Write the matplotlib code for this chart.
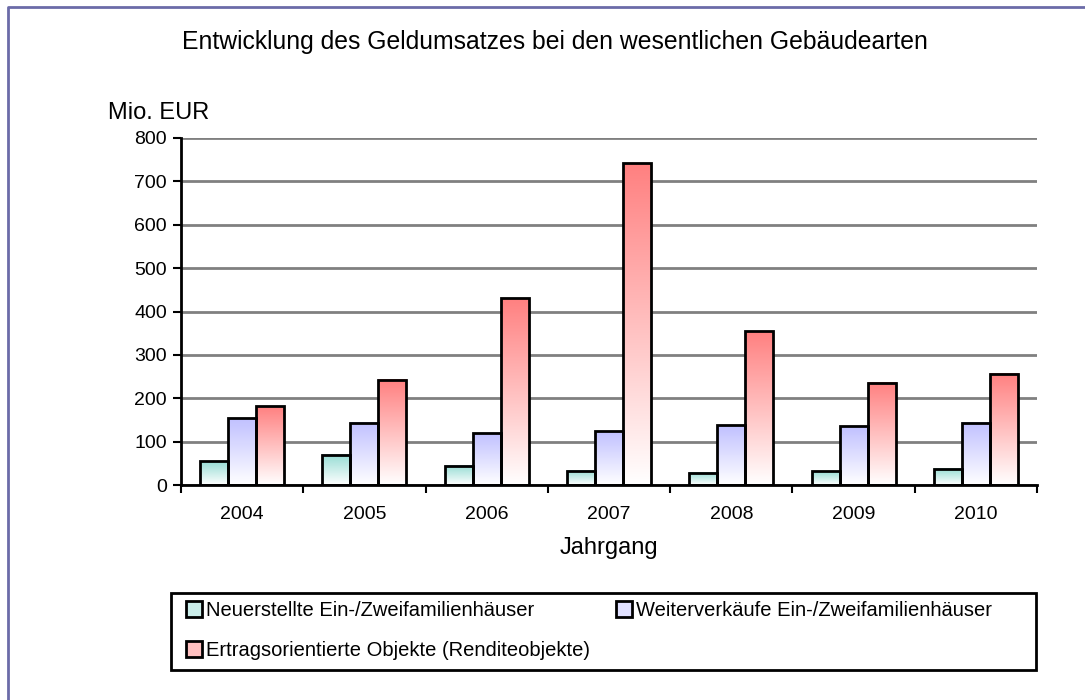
import matplotlib
matplotlib.use('Agg')
import matplotlib.pyplot as plt
import numpy as np
from matplotlib.colors import LinearSegmentedColormap, to_rgb
from matplotlib.patches import Rectangle, Patch
from matplotlib.lines import Line2D

plt.rcParams['font.family'] = ['Liberation Sans', 'DejaVu Sans']

years = ['2004', '2005', '2006', '2007', '2008', '2009', '2010']
neubau = [55, 70, 44, 33, 28, 32, 38]
weiterverkauf = [154, 144, 119, 124, 138, 136, 144]
rendite = [182, 243, 431, 742, 354, 236, 257]

series_names = ['Neuerstellte Ein-/Zweifamilienhäuser',
                'Weiterverkäufe Ein-/Zweifamilienhäuser',
                'Ertragsorientierte Objekte (Renditeobjekte)']
top_colors = ['#96dcd4', '#c0c0ff', '#ff8080']

fig = plt.figure(figsize=(10.85, 7.0), dpi=100)
ax = fig.add_axes([181 / 1085, 1 - 485 / 700, (1037 - 181) / 1085, (485 - 138) / 700])

x = np.arange(len(years))
width = 0.229
offsets = [-width, 0, width]
grad = np.linspace(1, 0, 256).reshape(-1, 1)

for values, off, color in zip([neubau, weiterverkauf, rendite], offsets, top_colors):
    cmap = LinearSegmentedColormap.from_list('g', ['#ffffff', color])
    bars = ax.bar(x + off, values, width, facecolor='none', edgecolor='black',
                  linewidth=2, zorder=3)
    for b in bars:
        x0, y0 = b.get_x(), b.get_y()
        ax.imshow(grad, extent=[x0, x0 + b.get_width(), y0, y0 + b.get_height()],
                  cmap=cmap, vmin=0, vmax=1, aspect='auto', origin='upper', zorder=2)

ax.set_xlim(-0.5, len(years) - 0.5)
ax.set_ylim(0, 800)
ax.set_yticks(np.arange(0, 801, 100))
ax.yaxis.grid(True, color='#808080', linewidth=2)
ax.set_axisbelow(True)

# ticks between categories, labels centred below each group
ax.set_xticks(np.arange(-0.5, len(years), 1.0))
ax.set_xticklabels([])
ax.set_xticks(x, minor=True)
ax.set_xticklabels(years, minor=True)
ax.tick_params(axis='x', which='major', direction='out', length=6, width=1.5)
ax.tick_params(axis='x', which='minor', length=0, pad=15, labelsize=14)
ax.tick_params(axis='y', direction='out', length=6, width=1.5, pad=4, labelsize=14)

for s in ['top', 'right']:
    ax.spines[s].set_visible(False)
for s in ['left', 'bottom']:
    ax.spines[s].set_linewidth(2)

ax.set_xlabel('Jahrgang', fontsize=17, labelpad=10)

fig.text(555 / 1085, 1 - 42 / 700, 'Entwicklung des Geldumsatzes bei den wesentlichen Gebäudearten',
         ha='center', va='center', fontsize=17.8)
fig.text(108 / 1085, 1 - 113 / 700, 'Mio. EUR', ha='left', va='center', fontsize=17)

# legend with its own frame
fig.patches.append(Rectangle((171 / 1085, 1 - 670 / 700), (1036 - 171) / 1085, 77 / 700,
                             transform=fig.transFigure, facecolor='none',
                             edgecolor='black', linewidth=2))
handles = [Patch(facecolor=1 - 0.5 * (1 - np.array(to_rgb(c))), edgecolor='black',
                 linewidth=2) for c in top_colors]
order = [0, 2, 1]
fig.legend([handles[i] for i in order], [series_names[i] for i in order], loc='upper left',
           bbox_to_anchor=(186 / 1085, 1 - 601 / 700), ncol=2, frameon=False,
           fontsize=14.5, handlelength=0.8, handleheight=0.8, handletextpad=0.2,
           columnspacing=1.3, labelspacing=1.05, borderpad=0, borderaxespad=0)

# outer frame (left and top visible)
fig.lines.append(Line2D([8 / 1085, 8 / 1085, 1.0], [0.0, 1 - 7 / 700, 1 - 7 / 700],
                        transform=fig.transFigure, color='#6b6ba8', linewidth=2))

fig.savefig('out.png', dpi=100)
